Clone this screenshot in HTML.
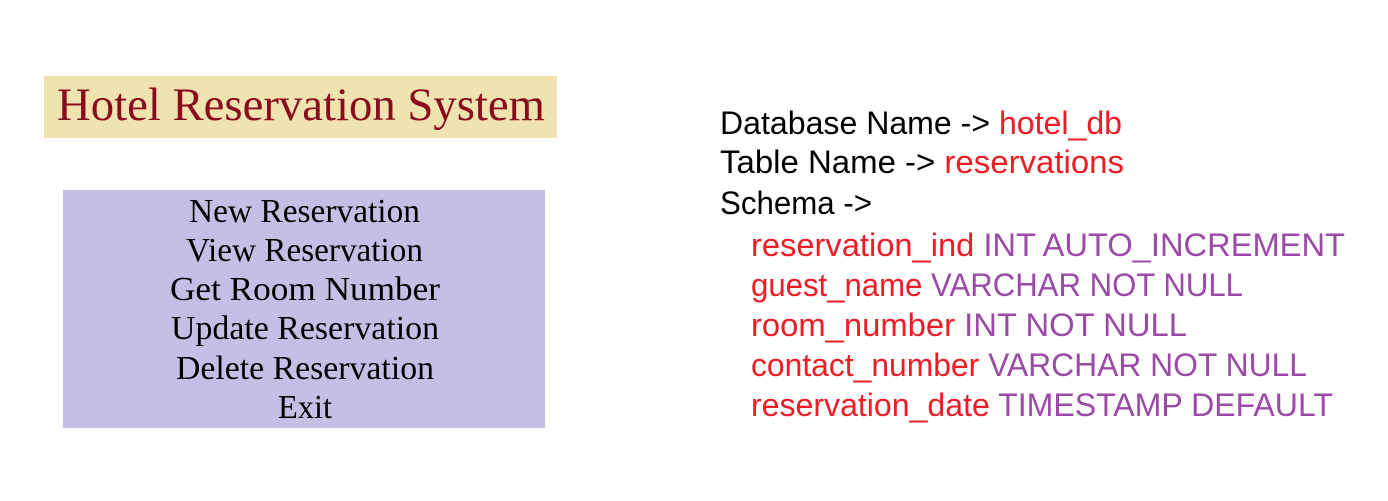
<!DOCTYPE html>
<html><head><meta charset="utf-8"><style>
html,body{margin:0;padding:0;background:#fff;width:1388px;height:501px;overflow:hidden}
</style></head><body>
<svg width="1388" height="501" xmlns="http://www.w3.org/2000/svg">
<rect x="44" y="76" width="513" height="62" fill="#EFE3AF"/>
<text x="57" y="120" font-family="Liberation Serif, serif" font-size="47" fill="#8B0A1E" textLength="488" lengthAdjust="spacingAndGlyphs">Hotel Reservation System</text>
<rect x="63" y="190" width="482" height="238" fill="#C6BEE4"/>
<g font-family="Liberation Serif, serif" font-size="34" fill="#000">
<text x="189" y="222" textLength="231" lengthAdjust="spacingAndGlyphs">New Reservation</text>
<text x="186" y="261" textLength="237" lengthAdjust="spacingAndGlyphs">View Reservation</text>
<text x="170" y="300" textLength="270" lengthAdjust="spacingAndGlyphs">Get Room Number</text>
<text x="171" y="339" textLength="268" lengthAdjust="spacingAndGlyphs">Update Reservation</text>
<text x="176" y="379" textLength="258" lengthAdjust="spacingAndGlyphs">Delete Reservation</text>
<text x="278" y="418" textLength="54" lengthAdjust="spacingAndGlyphs">Exit</text>
</g>
<g font-family="Liberation Sans, sans-serif" font-size="32">
<text x="720" y="134" textLength="402" lengthAdjust="spacingAndGlyphs" fill="#000">Database Name -&gt; <tspan fill="#EE1C25">hotel_db</tspan></text>
<text x="720" y="173" textLength="404" lengthAdjust="spacingAndGlyphs" fill="#000">Table Name -&gt; <tspan fill="#EE1C25">reservations</tspan></text>
<text x="720" y="214" textLength="152" lengthAdjust="spacingAndGlyphs" fill="#000">Schema -&gt;</text>
<text x="751" y="256" textLength="594" lengthAdjust="spacingAndGlyphs" fill="#EE1C25">reservation_ind  <tspan fill="#9B4AA8">INT AUTO_INCREMENT</tspan></text>
<text x="751" y="296" textLength="492" lengthAdjust="spacingAndGlyphs" fill="#EE1C25">guest_name <tspan fill="#9B4AA8">VARCHAR NOT NULL</tspan></text>
<text x="751" y="336" textLength="436" lengthAdjust="spacingAndGlyphs" fill="#EE1C25">room_number <tspan fill="#9B4AA8">INT NOT NULL</tspan></text>
<text x="751" y="376" textLength="556" lengthAdjust="spacingAndGlyphs" fill="#EE1C25">contact_number <tspan fill="#9B4AA8">VARCHAR NOT NULL</tspan></text>
<text x="751" y="416" textLength="582" lengthAdjust="spacingAndGlyphs" fill="#EE1C25">reservation_date <tspan fill="#9B4AA8">TIMESTAMP DEFAULT</tspan></text>
</g>
</svg>
</body></html>
